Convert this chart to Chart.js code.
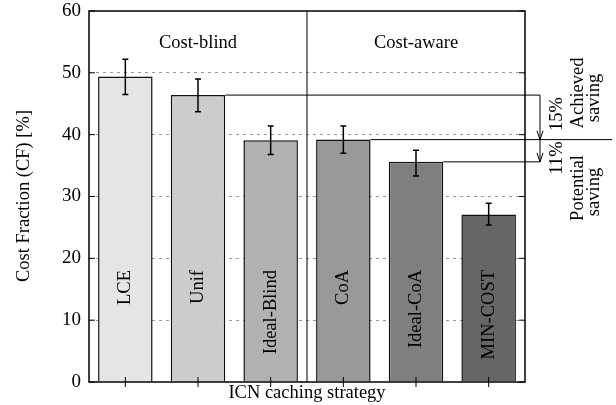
<!DOCTYPE html>
<html lang="en">
<head>
<meta charset="UTF-8">
<title>Cost Fraction</title>
<script src="https://cdn.jsdelivr.net/npm/chart.js"></script>
<style>
  body { margin: 0; background: #fff; }
  #wrap { width: 616px; height: 405px; }
</style>
</head>
<body>
<div id="wrap"><canvas id="cfChart" width="616" height="405"></canvas></div>
<script>
// data
const strategies = ["LCE", "Unif", "Ideal-Blind", "CoA", "Ideal-CoA", "MIN-COST"];
const costFraction = [49.4, 46.4, 39.1, 39.2, 35.6, 27.1];
const errLow = [46.5, 43.7, 36.8, 37.0, 33.3, 25.4];
const errHigh = [52.2, 49.0, 41.4, 41.4, 37.5, 28.9];
const barColors = ["#e5e5e5", "#cccccc", "#b2b2b2", "#999999", "#7f7f7f", "#666666"];
const yTicks = [0, 10, 20, 30, 40, 50, 60];

const SERIF = '"Liberation Serif", "DejaVu Serif", serif';
const FONT = '18.5px ' + SERIF;

function vText(ctx, txt, x, y, align) {
    ctx.save();
    ctx.translate(x, y);
    ctx.rotate(-Math.PI / 2);
    ctx.textAlign = align;
    ctx.textBaseline = 'middle';
    ctx.fillText(txt, 0, 0);
    ctx.restore();
}

function arrowDown(ctx, x, y1, y2) {
    ctx.beginPath();
    ctx.moveTo(x, y1);
    ctx.lineTo(x, y2);
    ctx.stroke();
    ctx.beginPath();
    ctx.moveTo(x - 3, y2 - 9);
    ctx.lineTo(x, y2);
    ctx.lineTo(x + 3, y2 - 9);
    ctx.stroke();
}

const extras = {
    id: 'extras',
    afterDatasetsDraw(chart) {
        const ctx = chart.ctx;
        const a = chart.chartArea;
        const y = chart.scales.y;
        const bars = chart.getDatasetMeta(0).data;

        ctx.save();
        ctx.strokeStyle = '#000';
        ctx.fillStyle = '#000';

        // error bars
        ctx.lineWidth = 1.5;
        bars.forEach((b, i) => {
            const top = y.getPixelForValue(errHigh[i]);
            const bot = y.getPixelForValue(errLow[i]);
            ctx.beginPath();
            ctx.moveTo(b.x, top); ctx.lineTo(b.x, bot);
            ctx.moveTo(b.x - 3, top); ctx.lineTo(b.x + 3, top);
            ctx.moveTo(b.x - 3, bot); ctx.lineTo(b.x + 3, bot);
            ctx.stroke();
        });

        // labels inside bars
        ctx.font = FONT;
        bars.forEach((b, i) => {
            vText(ctx, strategies[i], b.x, 270, 'right');
        });

        // divider between cost-blind and cost-aware
        ctx.lineWidth = 1;
        const midX = (bars[2].x + bars[3].x) / 2;
        ctx.beginPath();
        ctx.moveTo(midX, a.top); ctx.lineTo(midX, a.bottom);
        ctx.stroke();

        ctx.textAlign = 'center';
        ctx.textBaseline = 'middle';
        ctx.fillText('Cost-blind', (a.left + midX) / 2, 43);
        ctx.fillText('Cost-aware', (midX + a.right) / 2, 43);

        // savings annotation
        const arrowX = a.right + 15;
        const yUnif = y.getPixelForValue(costFraction[1]);
        const yCoA = y.getPixelForValue(costFraction[3]);
        const yIdeal = y.getPixelForValue(costFraction[4]);
        ctx.beginPath();
        ctx.moveTo(bars[1].x + bars[1].width / 2, yUnif); ctx.lineTo(arrowX, yUnif);
        ctx.moveTo(bars[3].x + bars[3].width / 2, yCoA); ctx.lineTo(612, yCoA);
        ctx.moveTo(bars[4].x + bars[4].width / 2, yIdeal); ctx.lineTo(arrowX, yIdeal);
        ctx.stroke();
        arrowDown(ctx, arrowX, yUnif, yCoA);
        arrowDown(ctx, arrowX, yCoA, yIdeal);

        vText(ctx, '15%', 557, 114, 'center');
        vText(ctx, 'Achieved', 578, 93, 'center');
        vText(ctx, 'saving', 594, 98, 'center');
        vText(ctx, '11%', 557, 158, 'center');
        vText(ctx, 'Potential', 578, 188, 'center');
        vText(ctx, 'saving', 594, 192, 'center');

        // axis titles
        vText(ctx, 'Cost Fraction (CF) [%]', 24, 196, 'center');
        ctx.textAlign = 'center';
        ctx.fillText('ICN caching strategy', (a.left + a.right) / 2, 393);

        // inward ticks
        ctx.lineWidth = 1;
        ctx.beginPath();
        yTicks.forEach(v => {
            const py = y.getPixelForValue(v);
            ctx.moveTo(a.left, py); ctx.lineTo(a.left + 6, py);
            ctx.moveTo(a.right, py); ctx.lineTo(a.right - 6, py);
        });
        bars.forEach(b => {
            ctx.moveTo(b.x, a.bottom - 5); ctx.lineTo(b.x, a.bottom + 5);
        });
        ctx.stroke();

        // frame
        ctx.lineWidth = 1.5;
        ctx.strokeRect(a.left, a.top, a.right - a.left, a.bottom - a.top);
        ctx.restore();
    }
};

new Chart(document.getElementById('cfChart'), {
    type: 'bar',
    data: {
        labels: strategies,
        datasets: [{
            data: costFraction,
            backgroundColor: barColors,
            borderColor: '#111',
            borderWidth: 1.5,
            categoryPercentage: 1,
            barPercentage: 0.75
        }]
    },
    options: {
        responsive: false,
        animation: false,
        layout: { padding: { left: 0, right: 91, top: 11, bottom: 0 } },
        plugins: { legend: { display: false }, tooltip: { enabled: false } },
        scales: {
            x: {
                grid: { display: false, drawTicks: false },
                border: { display: false },
                ticks: { display: false },
                afterFit: s => { s.height = 23; s.paddingLeft = 0; s.paddingRight = 0; }
            },
            y: {
                min: 0,
                max: 60,
                afterFit: s => { s.width = 89; s.paddingTop = 0; s.paddingBottom = 0; },
                afterBuildTicks: s => { s.ticks = yTicks.map(v => ({ value: v })); },
                border: { display: false, dash: [3, 4] },
                grid: {
                    drawTicks: false,
                    color: ctx => (ctx.tick.value === 0 || ctx.tick.value === 60) ? 'rgba(0,0,0,0)' : '#999',
                    lineWidth: 1
                },
                ticks: {
                    color: '#000',
                    padding: 8,
                    font: { family: SERIF, size: 19 }
                }
            }
        }
    },
    plugins: [extras]
});
</script>
</body>
</html>
